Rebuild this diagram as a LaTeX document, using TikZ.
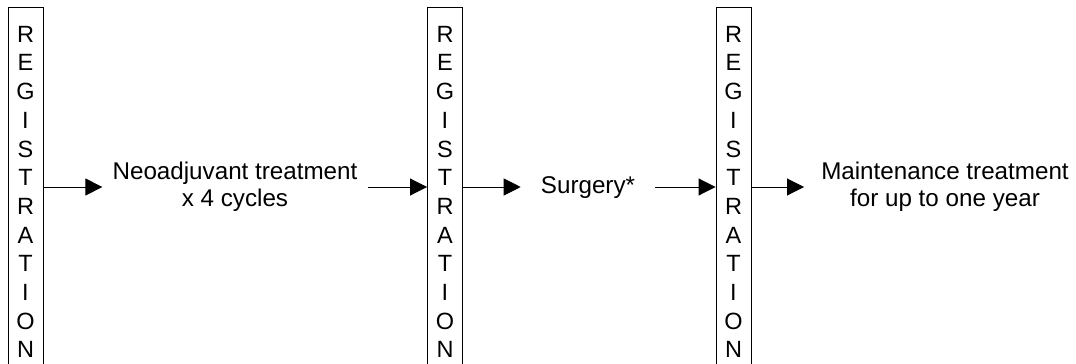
\documentclass[tikz,border=0pt]{standalone}
\usepackage{fontspec}
\setmainfont{Liberation Sans}
\usetikzlibrary{arrows.meta}
\begin{document}
\begin{tikzpicture}[x=1pt,y=-1pt,
  regbox/.style={draw, line width=0.9pt, minimum width=35pt, minimum height=370pt,
    inner sep=0pt, align=center, font=\fontsize{23.5}{28.7}\selectfont},
  label/.style={align=center, inner ysep=0pt, inner xsep=10pt, font=\fontsize{24.2}{27}\selectfont},
  flow/.style={line width=0.9pt, -{Triangle[length=17pt,width=17pt]}}]
\useasboundingbox (0,0) rectangle (1076,364);
\clip (0,0) rectangle (1076,364);
% registration columns
\node[regbox] (r1) at (25.5,192) {R\\E\\G\\I\\S\\T\\R\\A\\T\\I\\O\\N};
\node[regbox] (r2) at (445,192) {R\\E\\G\\I\\S\\T\\R\\A\\T\\I\\O\\N};
\node[regbox] (r3) at (733.5,192) {R\\E\\G\\I\\S\\T\\R\\A\\T\\I\\O\\N};
% treatment steps
\node[label] (neo) at (235,187) {Neoadjuvant treatment\\x 4 cycles};
\node[label, inner xsep=20pt] (surg) at (588,188) {Surgery*};
\node[label, inner xsep=17pt] (maint) at (945,187) {Maintenance treatment\\for up to one year};
% arrows between steps
\draw[flow] (r1.east |- 0,187) -- (neo.west |- 0,187);
\draw[flow] (neo.east |- 0,187) -- (r2.west |- 0,187);
\draw[flow] (r2.east |- 0,187) -- (surg.west |- 0,187);
\draw[flow] (surg.east |- 0,187) -- (r3.west |- 0,187);
\draw[flow] (r3.east |- 0,187) -- (maint.west |- 0,187);
\end{tikzpicture}
\end{document}
